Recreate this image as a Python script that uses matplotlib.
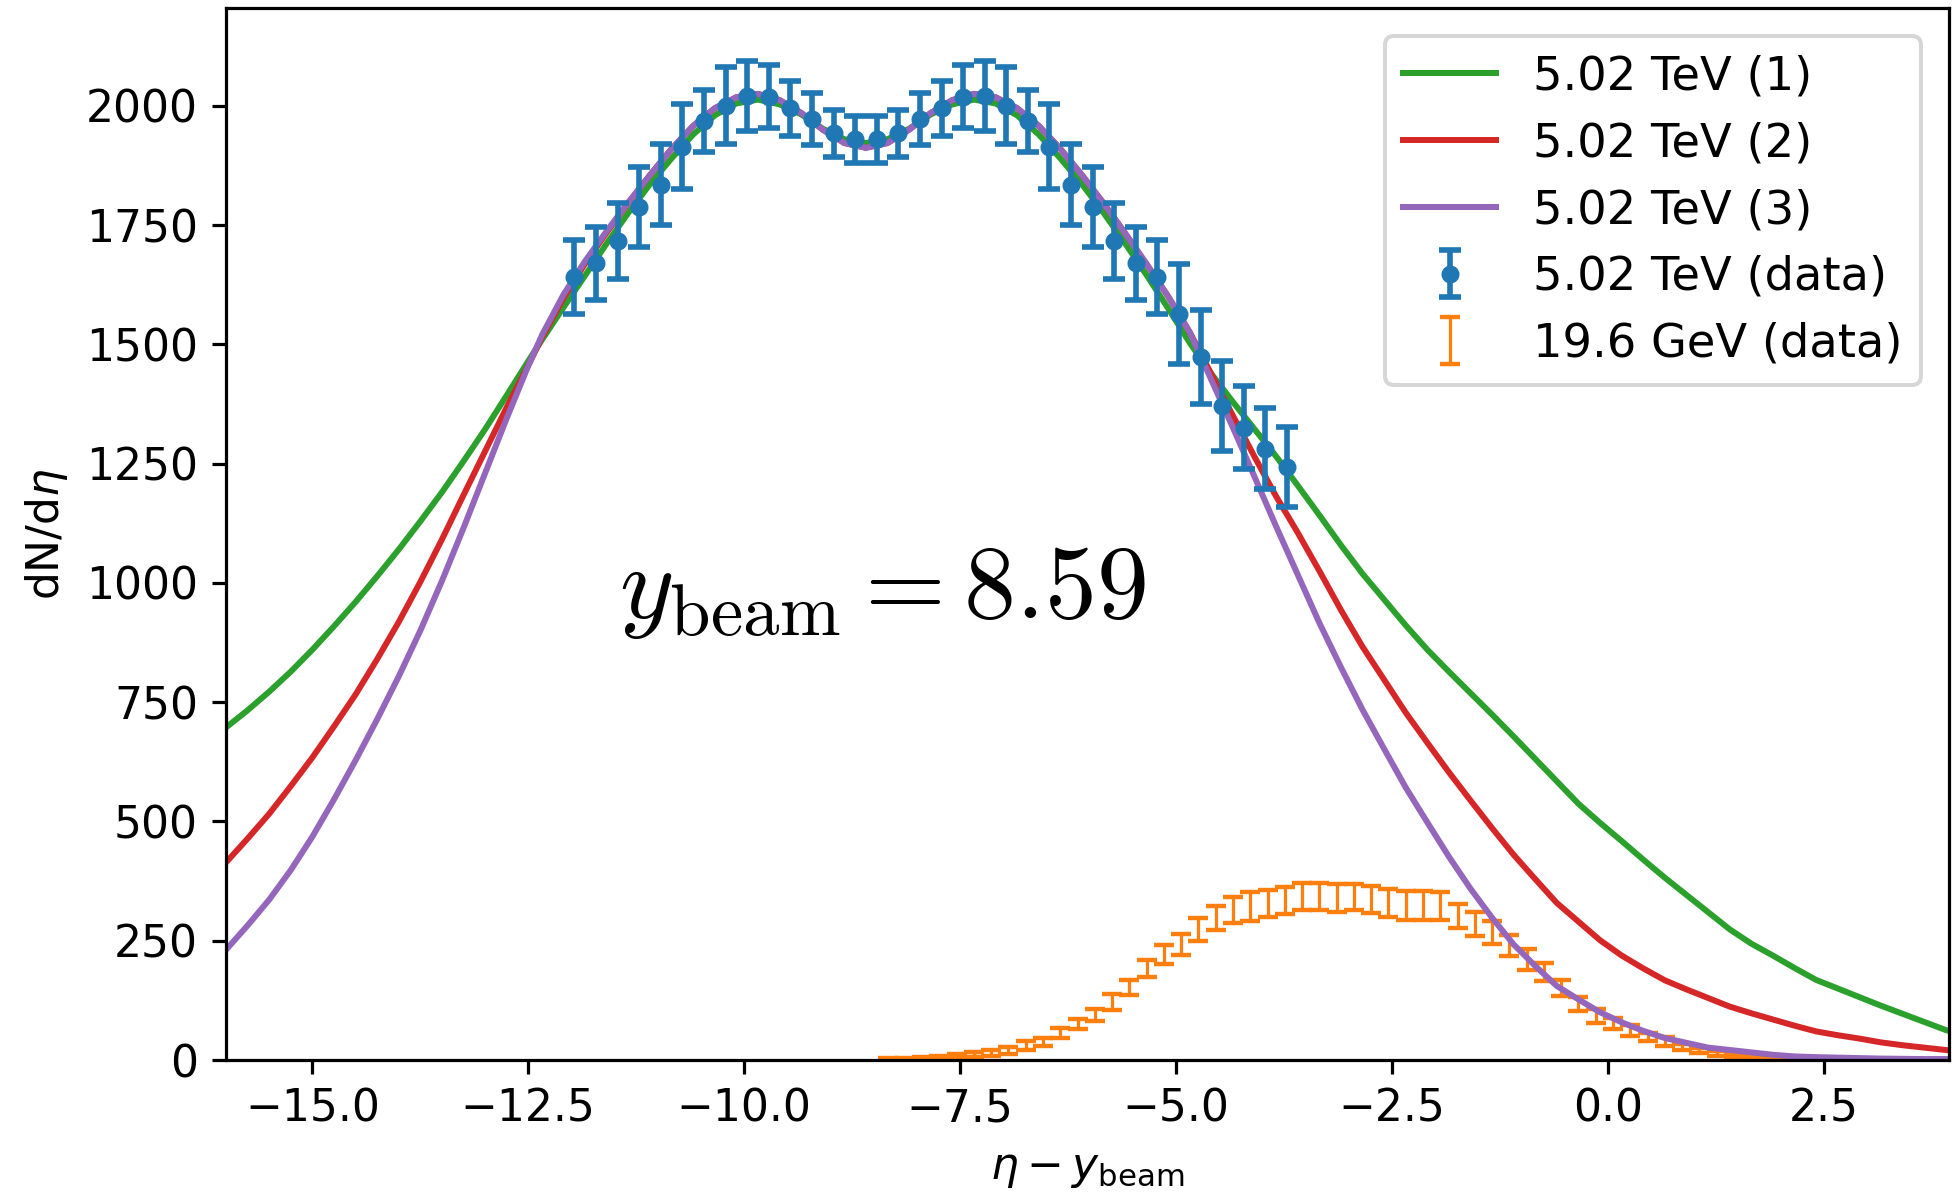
import matplotlib
matplotlib.use('Agg')
import matplotlib.pyplot as plt
import numpy as np

# ---------------- data ----------------
ybeam_lhc = 8.59
ybeam_rhic = 3.04

eta_lhc = [-3.375, -3.125, -2.875, -2.625, -2.375, -2.125, -1.875, -1.625, -1.375, -1.125,
           -0.875, -0.625, -0.375, -0.125, 0.125, 0.375, 0.625, 0.875, 1.125, 1.375,
           1.625, 1.875, 2.125, 2.375, 2.625, 2.875, 3.125, 3.375, 3.625, 3.875,
           4.125, 4.375, 4.625, 4.875]
dndeta_lhc = [1641, 1670, 1716, 1788, 1835, 1914, 1968, 2000, 2021, 2019,
              1995, 1972, 1942, 1930, 1930, 1942, 1972, 1995, 2019, 2021,
              2000, 1968, 1914, 1835, 1788, 1716, 1670, 1641, 1563, 1474,
              1371, 1325, 1281, 1243]
err_lhc = [78, 76, 80, 83, 85, 89, 65, 81, 73, 66,
           58, 55, 49, 49, 49, 49, 55, 58, 66, 73,
           81, 65, 89, 85, 83, 80, 76, 78, 105, 98,
           94, 87, 85, 84]

eta_rhic = [-5.3, -5.1, -4.9, -4.7, -4.5, -4.3, -4.1, -3.9, -3.7, -3.5,
            -3.3, -3.1, -2.9, -2.7, -2.5, -2.3, -2.1, -1.9, -1.7, -1.5,
            -1.3, -1.1, -0.9, -0.7, -0.5, -0.3, -0.1, 0.1, 0.3, 0.5,
            0.7, 0.9, 1.1, 1.3, 1.5, 1.7, 1.9, 2.1, 2.3, 2.5,
            2.7, 2.9, 3.1, 3.3, 3.5, 3.7, 3.9, 4.1, 4.3, 4.5,
            4.7, 4.9, 5.1, 5.3]
dndeta_rhic = [2, 3, 4, 6, 8, 11, 14.5, 20, 30, 38,
               56, 75, 94.5, 121, 152, 191.5, 221, 243, 273.5, 298,
               314, 322.5, 328, 334, 342, 342, 339.5, 341, 337, 328.5,
               324, 324, 323, 302, 285, 268, 240, 210, 184, 151,
               118, 92, 77, 62, 48, 38, 27, 20, 14, 10,
               7, 5, 3, 2]
err_rhic = [1.5, 2, 2.5, 3, 4, 5, 7, 7, 9, 9,
            10.5, 11, 12.5, 16.5, 16, 18, 20, 22, 23.5, 25,
            27, 30.5, 29, 29, 28, 28, 28.5, 27, 28, 29.5,
            31, 31, 30, 26, 26, 24, 22.5, 22, 18.5, 17,
            15, 14, 11.5, 11.5, 9, 9.5, 7, 6, 5, 4,
            3, 2.5, 2, 1.5]

x_model = [-16.0, -15.75, -15.5, -15.25, -15.0, -14.75, -14.5, -14.25, -14.0, -13.75,
           -13.5, -13.25, -13.0, -12.75, -12.5,
           -12.34, -12.09, -11.84, -11.59, -11.34, -11.09, -10.84, -10.59, -10.34, -10.09,
           -9.84, -9.59, -9.34, -9.09, -8.84, -8.59, -8.34, -8.09, -7.84, -7.59,
           -7.34, -7.09, -6.84, -6.59, -6.34, -6.09, -5.84, -5.59, -5.34, -5.09, -4.84,
           -4.59, -4.34, -4.09, -3.84, -3.59, -3.34, -3.09, -2.84, -2.59, -2.34,
           -2.09, -1.84, -1.59, -1.34, -1.09, -0.84, -0.59, -0.34, -0.09, 0.16,
           0.41, 0.66, 0.91, 1.16, 1.41, 1.66, 1.91, 2.16, 2.41, 2.66,
           2.91, 3.16, 3.41, 3.66, 3.91, 4.16]

model1 = [697, 733, 772, 814, 860, 909, 960, 1014, 1070, 1129,
          1190, 1255, 1322, 1393, 1465,
          1510, 1578, 1645, 1712, 1776, 1836, 1890, 1940, 1980, 2005,
          2013, 2003, 1982, 1952, 1930, 1922, 1930, 1952, 1982, 2003,
          2013, 2005, 1980, 1940, 1890, 1836, 1776, 1712, 1645, 1575, 1503,
          1438, 1379, 1322, 1265, 1204, 1142, 1079, 1019, 965, 911,
          860, 814, 769, 724, 678, 631, 584, 537, 497, 459,
          420, 382, 346, 310, 274, 244, 219, 193, 168, 150,
          132, 114, 97, 80, 63, 50]

model2 = [414, 464, 516, 574, 634, 699, 766, 840, 918, 1002,
          1091, 1184, 1276, 1368, 1456,
          1515, 1598, 1670, 1735, 1797, 1855, 1910, 1958, 1995, 2018,
          2025, 2012, 1985, 1950, 1922, 1912, 1922, 1950, 1985, 2012,
          2025, 2018, 1995, 1958, 1910, 1855, 1796, 1733, 1668, 1600, 1525,
          1437, 1350, 1264, 1181, 1105, 1025, 943, 866, 797, 728,
          665, 603, 544, 486, 430, 379, 329, 290, 251, 219,
          192, 167, 148, 130, 112, 98, 85, 72, 60, 52,
          45, 37, 31, 26, 21, 17]

model3 = [231, 282, 336, 398, 468, 546, 628, 714, 804, 900,
          1004, 1115, 1230, 1345, 1455,
          1520, 1605, 1675, 1738, 1798, 1855, 1910, 1958, 1995, 2018,
          2025, 2012, 1985, 1950, 1922, 1912, 1922, 1950, 1985, 2012,
          2025, 2018, 1995, 1958, 1910, 1855, 1796, 1733, 1668, 1600, 1525,
          1425, 1325, 1222, 1118, 1017, 916, 823, 734, 652, 571,
          498, 426, 359, 298, 242, 197, 155, 127, 100, 79,
          61, 46, 36, 26, 21, 16, 11, 7.5, 6, 5,
          4, 3, 2.5, 2, 2, 1.5]

labels = ['5.02 TeV (1)', '5.02 TeV (2)', '5.02 TeV (3)', '5.02 TeV (data)', '19.6 GeV (data)']
xticks = [-15.0, -12.5, -10.0, -7.5, -5.0, -2.5, 0.0, 2.5]
yticks = [0, 250, 500, 750, 1000, 1250, 1500, 1750, 2000]

# ---------------- figure ----------------
plt.rcParams['font.size'] = 11
DPI = 288
W, H = 1958, 1194
fig = plt.figure(figsize=(W / DPI, H / DPI), dpi=DPI)
ax = fig.add_axes([226 / W, 1 - 1060 / H, (1949 - 226) / W, (1060 - 8) / H])

x_lhc = np.array(eta_lhc) - ybeam_lhc
x_rhic = np.array(eta_rhic) - ybeam_rhic

eb_or = ax.errorbar(x_rhic, dndeta_rhic, yerr=err_rhic, fmt='none', ecolor='#ff7f0e',
                    elinewidth=0.8, capsize=2.4, capthick=1.1, zorder=1)
l1, = ax.plot(x_model, model1, color='#2ca02c', lw=1.5, zorder=2)
l2, = ax.plot(x_model, model2, color='#d62728', lw=1.5, zorder=2)
l3, = ax.plot(x_model, model3, color='#9467bd', lw=1.5, zorder=2)
eb_bl = ax.errorbar(x_lhc, dndeta_lhc, yerr=err_lhc, fmt='o', color='#1f77b4',
                    ms=3.5, elinewidth=1.4, capsize=2.7, capthick=1.4, zorder=4)

ax.set_xlim(-16.0, 3.95)
ax.set_ylim(0, 2205)
ax.set_xticks(xticks)
ax.set_yticks(yticks)
ax.tick_params(labelsize=11)
ax.set_xlabel(r'$\eta - y_{\rm beam}$', fontsize=11)
ax.set_ylabel(r'dN/d$\eta$', fontsize=11)

ax.text(-8.40, 926, r'$y_{\rm beam} = 8.59$', fontsize=26, math_fontfamily='cm',
        ha='center', va='baseline')

ax.legend([l1, l2, l3, eb_bl, eb_or], labels, loc='upper right', fontsize=11.6,
          labelspacing=0.47, borderaxespad=0.6)

fig.savefig('out.png', dpi=DPI)
